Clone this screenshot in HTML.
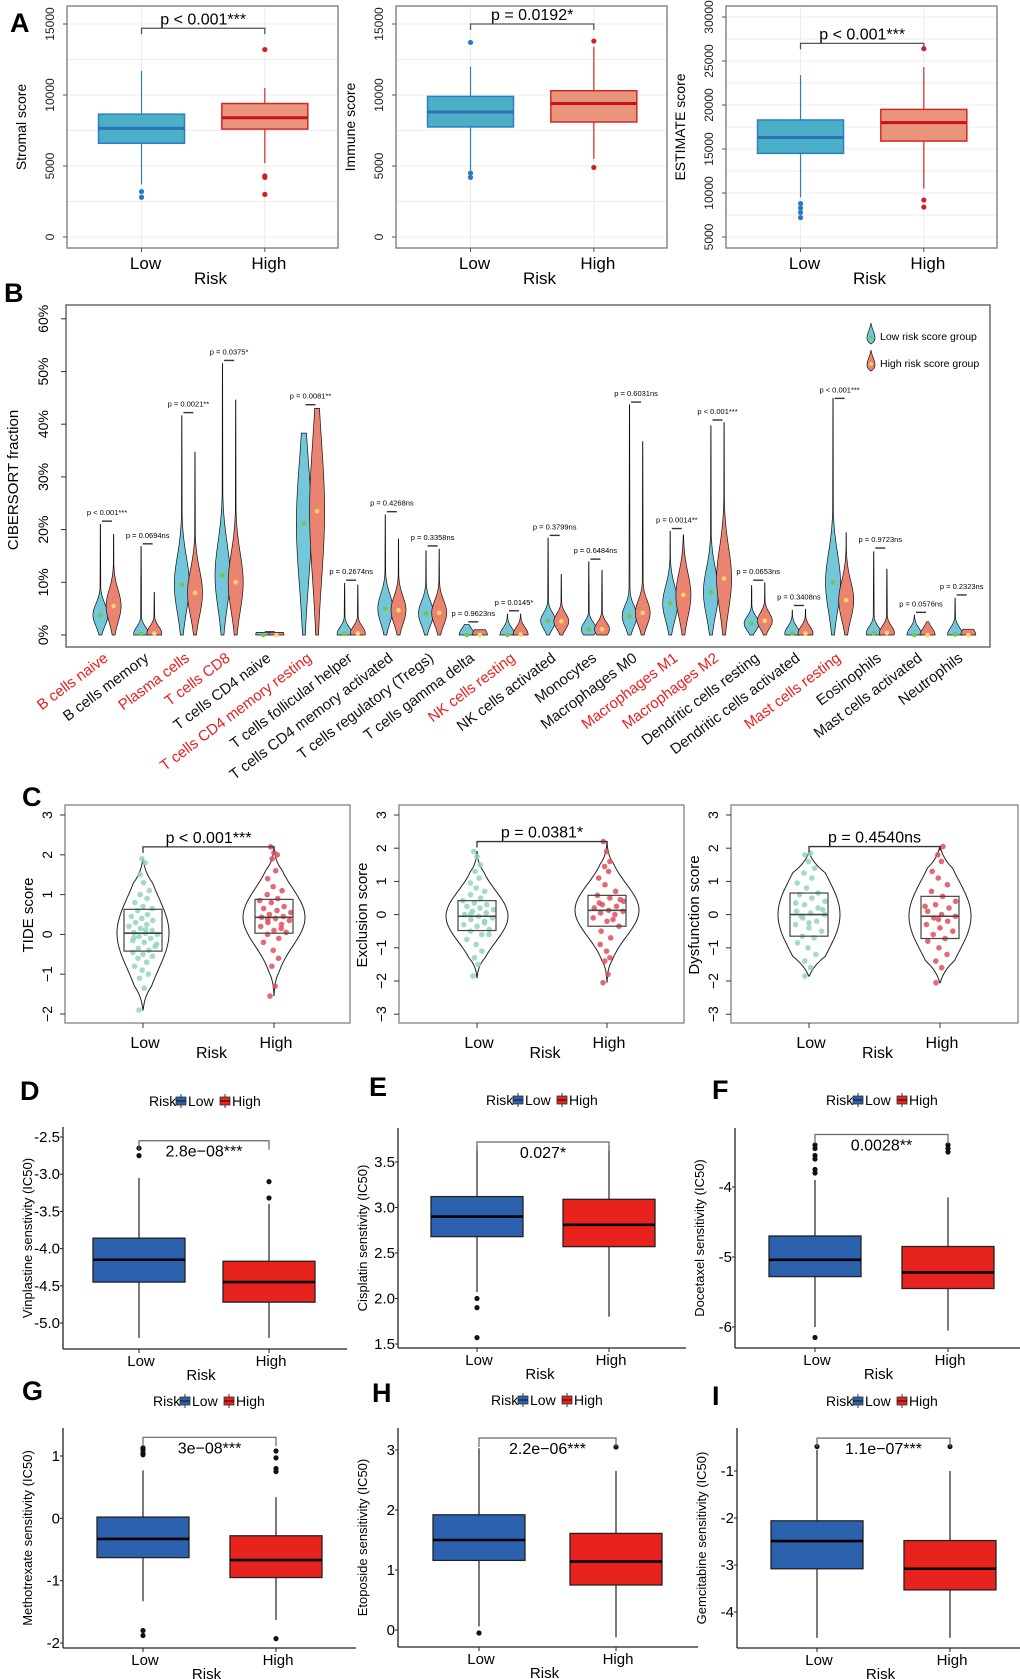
<!DOCTYPE html>
<html><head><meta charset="utf-8"><style>
html,body{margin:0;padding:0;background:#fff;}
svg{display:block;font-family:"Liberation Sans",Arial,sans-serif;}
.n{font-family:"Liberation Sans Narrow","Liberation Sans",sans-serif;}
</style></head><body>
<svg id="fig" width="1020" height="1679" viewBox="0 0 1020 1679" xmlns="http://www.w3.org/2000/svg"></svg>
<script>
// ===== Panel A data [q1, median, q3, whiskerLow, whiskerHigh] =====
const aCategories=['Low','High'];
const stromalLow=[6600,7650,8650,3700,11700]; const stromalLowOut=[3200,2800];
const stromalHigh=[7600,8400,9400,5200,10500]; const stromalHighOut=[13200,4300,4200,3000];
const immuneLow=[7750,8800,9900,4700,12000]; const immuneLowOut=[13700,4500,4200];
const immuneHigh=[8100,9400,10300,5500,13400]; const immuneHighOut=[13800,4900];
const estLow=[14500,16300,18300,9500,23400]; const estLowOut=[8800,8300,7800,7200];
const estHigh=[15900,18000,19500,10500,24300]; const estHighOut=[26400,9200,8400];
const aPvals=['p < 0.001***','p = 0.0192*','p < 0.001***'];
const aBracket=[14700,15000,27000];
// ===== Panel B data =====
const bCells=['B cells naive','B cells memory','Plasma cells','T cells CD8','T cells CD4 naive','T cells CD4 memory resting','T cells follicular helper','T cells CD4 memory activated','T cells regulatory  (Tregs)','T cells gamma  delta','NK cells resting','NK cells activated','Monocytes','Macrophages M0','Macrophages M1','Macrophages M2','Dendritic cells resting','Dendritic cells activated','Mast cells resting','Eosinophils','Mast cells activated','Neutrophils'];
const bRed=[1,0,1,1,0,1,0,0,0,0,1,0,0,0,1,1,0,0,1,0,0,0];
const bLowMax=[21,16.8,41.6,51.5,0.5,38.3,9.8,22.8,16,2,4,18.4,13.9,43.7,19.7,39.7,9.4,4.7,44.9,15.8,3.8,7];
const bHighMax=[19.1,8.1,34.7,44.6,0.5,43,9.5,18.2,16.3,1,4,11.5,12.3,36.7,19,40.3,9.9,4.9,19.4,12.5,2.5,1.1];
const bLowMed=[3.8,0.2,9.6,11.3,0,21.2,0.2,5,4.1,0,0,2.7,1.1,3.6,6,8.1,2.2,0.3,10,0.3,0,0.1];
const bHighMed=[5.5,0.3,8,10,0,23.5,0.3,4.7,4.2,0,0.1,2.6,1.1,4.2,7.6,10.7,2.7,0.3,6.6,0.4,0,0];
const bBracket=[21.6,17.3,42.2,52.1,0.6,43.7,10.4,23.4,16.9,2.5,4.6,18.9,14.4,44.2,20.2,40.8,10.4,5.6,44.9,16.5,4.3,7.6];
const bPvals=['p < 0.001***','p = 0.0694ns','p = 0.0021**','p = 0.0375*','','p = 0.0081**','p = 0.2674ns','p = 0.4268ns','p = 0.3358ns','p = 0.9623ns','p = 0.0145*','p = 0.3799ns','p = 0.6484ns','p = 0.6031ns','p = 0.0014**','p < 0.001***','p = 0.0653ns','p = 0.3408ns','p < 0.001***','p = 0.9723ns','p = 0.0576ns','p = 0.2323ns'];
const bTicks=[0,10,20,30,40,50,60];
// ===== Panel C data [q1, median, q3, min, max] =====
const tideLow=[-0.42,0.03,0.63,-1.9,1.9]; const tideHigh=[0.03,0.43,0.88,-1.55,2.2];
const exclLow=[-0.48,-0.05,0.42,-1.9,1.9]; const exclHigh=[-0.35,0.13,0.58,-2.05,2.2];
const dysLow=[-0.65,0,0.65,-1.85,1.85]; const dysHigh=[-0.72,-0.05,0.55,-2.05,2.05];
const tideLowPts=[-1.9,-1.35,-1.1,-1.0,-0.9,-0.8,-0.7,-0.6,-0.55,-0.5,-0.45,-0.4,-0.35,-0.3,-0.2,-0.15,-0.1,-0.05,0,0.03,0.05,0.1,0.15,0.2,0.25,0.3,0.35,0.4,0.45,0.5,0.6,0.65,0.7,0.8,0.9,1.0,1.1,1.3,1.5,1.8,1.9,-0.25,0.12,-0.08];
const tideHighPts=[-1.55,-1.3,-0.8,-0.6,-0.4,-0.2,-0.1,0,0.05,0.1,0.2,0.25,0.3,0.35,0.4,0.43,0.45,0.5,0.55,0.6,0.65,0.7,0.8,0.85,0.9,1.0,1.1,1.2,1.4,1.6,1.9,2.0,2.05,2.2,0.15,0.38];
const exclLowPts=[-1.85,-1.5,-1.3,-1.1,-0.9,-0.75,-0.6,-0.5,-0.45,-0.35,-0.3,-0.2,-0.15,-0.1,-0.05,0,0.05,0.1,0.15,0.2,0.25,0.3,0.35,0.42,0.5,0.6,0.7,0.8,0.95,1.1,1.3,1.5,1.75,1.9,-0.25,0.02,-0.6];
const exclHighPts=[-2.05,-1.8,-1.4,-1.3,-1.1,-0.9,-0.7,-0.5,-0.35,-0.2,-0.1,0,0.05,0.1,0.13,0.2,0.25,0.3,0.4,0.5,0.58,0.7,0.9,1.1,1.3,1.45,1.6,1.9,2.2,-0.15,0.35,0.45];
const dysLowPts=[-1.85,-1.6,-1.4,-1.2,-1.0,-0.85,-0.7,-0.65,-0.5,-0.4,-0.3,-0.2,-0.1,0,0.05,0.1,0.2,0.3,0.4,0.5,0.6,0.65,0.8,0.95,1.1,1.25,1.4,1.6,1.8,1.85,-0.05,0.15,-0.25,0.35];
const dysHighPts=[-2.05,-1.6,-1.4,-1.2,-1.0,-0.8,-0.72,-0.6,-0.5,-0.4,-0.3,-0.2,-0.1,-0.05,0,0.1,0.2,0.3,0.4,0.55,0.7,0.9,1.1,1.3,1.6,1.8,2.05,-0.15,0.25];
const cPvals=['p < 0.001***','p = 0.0381*','p = 0.4540ns'];
const cBracket=[2.2,2.2,2.05];
// ===== Panels D-I data [q1, median, q3, whiskerLow, whiskerHigh] =====
const vinLow=[-4.45,-4.15,-3.86,-5.2,-3.05]; const vinLowOut=[-2.65,-2.75];
const vinHigh=[-4.72,-4.45,-4.17,-5.2,-3.4]; const vinHighOut=[-3.1,-3.32];
const cisLow=[2.68,2.9,3.12,2.07,3.68]; const cisLowOut=[2.0,1.9,1.57];
const cisHigh=[2.57,2.81,3.09,1.8,3.68]; const cisHighOut=[];
const docLow=[-5.28,-5.04,-4.7,-6.0,-3.9]; const docLowOut=[-3.4,-3.45,-3.55,-3.6,-3.75,-3.8,-6.15];
const docHigh=[-5.45,-5.22,-4.85,-6.05,-4.15]; const docHighOut=[-3.4,-3.45,-3.5];
const metLow=[-0.63,-0.33,0.02,-1.33,0.77]; const metLowOut=[1.02,1.05,1.1,1.13,-1.8,-1.88];
const metHigh=[-0.95,-0.67,-0.28,-1.63,0.34]; const metHighOut=[1.08,0.97,0.8,0.75,-1.93];
const etoLow=[1.16,1.5,1.92,0.06,3.03]; const etoLowOut=[-0.05];
const etoHigh=[0.75,1.14,1.61,-0.12,2.65]; const etoHighOut=[3.05];
const gemLow=[-3.08,-2.49,-2.06,-4.55,-0.55]; const gemLowOut=[-0.48];
const gemHigh=[-3.53,-3.08,-2.48,-4.55,-1.0]; const gemHighOut=[-0.48];
const drugP=['2.8e\u221208***','0.027*','0.0028**','3e\u221208***','2.2e\u221206***','1.1e\u221207***'];
const drugBracket=[-2.55,3.72,-3.25,1.3,3.2,-0.3];
const vinTicks=['-2.5','-3.0','-3.5','-4.0','-4.5','-5.0'];
const cisTicks=['1.5','2.0','2.5','3.0','3.5'];
const docTicks=['-6','-5','-4'];
const metTicks=['-2','-1','0','1'];
const etoTicks=['0','1','2','3'];
const gemTicks=['-4','-3','-2','-1'];

const NS='http://www.w3.org/2000/svg';
const svg=document.getElementById('fig');
function mk(tag,attrs,name,parent){
  const el=document.createElementNS(NS,tag);
  for(const k in attrs) el.setAttribute(k,attrs[k]);
  
  
  (parent||svg).appendChild(el); return el;
}
function txt(x,y,s,attrs,name,parent){const t=mk('text',Object.assign({x:x,y:y},attrs),name,parent);t.textContent=s;return t;}
function line(x1,y1,x2,y2,st,sw,name,p){return mk('line',{x1,y1,x2,y2,stroke:st,'stroke-width':sw},name,p);}

function boxplot(g,cx,hw,s,outl,y,fill,stroke,medC,sw,medW,dotC,name){
  line(cx,y(s[3]),cx,y(s[0]),stroke,1.2,name+'-whisker-low',g);
  line(cx,y(s[2]),cx,y(s[4]),stroke,1.2,name+'-whisker-high',g);
  mk('rect',{x:cx-hw,y:y(s[2]),width:2*hw,height:y(s[0])-y(s[2]),fill:fill,stroke:stroke,'stroke-width':sw},name+'-box',g);
  line(cx-hw,y(s[1]),cx+hw,y(s[1]),medC,medW,name+'-median',g);
  outl.forEach(function(v){mk('circle',{cx:cx,cy:y(v),r:2.6,fill:dotC},name+'-outlier',g);});
}
function letter(x,y,s){txt(x,y,s,{'font-size':27,'font-weight':'bold',class:'n'},'panel-label-'+s.toLowerCase());}

// ================= PANEL A =================
letter(10,32,'A');
const aPlots=[
 {x0:67,x1:338,title:'Stromal score',ticks:[0,5000,10000,15000],minor:2500,lo:0,hi:15000,yb:237,yt:24,low:stromalLow,lowO:stromalLowOut,high:stromalHigh,highO:stromalHighOut},
 {x0:396,x1:667,title:'Immune score',ticks:[0,5000,10000,15000],minor:2500,lo:0,hi:15000,yb:237,yt:24,low:immuneLow,lowO:immuneLowOut,high:immuneHigh,highO:immuneHighOut},
 {x0:726,x1:997,title:'ESTIMATE score',ticks:[5000,10000,15000,20000,25000,30000],minor:2500,lo:5000,hi:30000,yb:237,yt:17,low:estLow,lowO:estLowOut,high:estHigh,highO:estHighOut}];
aPlots.forEach(function(p,i){
  const g=mk('g',{},'score-plot-'+(i+1));
  const y=function(v){return p.yb-(v-p.lo)*(p.yb-p.yt)/(p.hi-p.lo);};
  const w=p.x1-p.x0, cL=p.x0+w*0.275, cH=p.x0+w*0.73;
  for(let v=p.lo-p.minor; v<=p.hi+p.minor; v+=p.minor){ if(y(v)>7&&y(v)<247) line(p.x0,y(v),p.x1,y(v),'#ececec',1,'gridline',g);}
  line(cL,6,cL,248,'#ececec',1,'gridline',g); line(cH,6,cH,248,'#ececec',1,'gridline',g);
  mk('rect',{x:p.x0,y:6,width:w,height:242,fill:'none',stroke:'#777','stroke-width':1.3},'plot-frame',g);
  p.ticks.forEach(function(t){line(p.x0-4,y(t),p.x0,y(t),'#555',1,'y-tick',g);
    txt(p.x0-13,y(t),String(t),{'font-size':12,'text-anchor':'middle',transform:'rotate(-90 '+(p.x0-13)+' '+y(t)+')',fill:'#222'},'y-tick-label',g);});
  txt(p.x0-41,127,p.title,{'font-size':14,'text-anchor':'middle',transform:'rotate(-90 '+(p.x0-41)+' 127)'},'y-axis-title',g);
  [cL,cH].forEach(function(c,j){line(c,248,c,252,'#555',1,'x-tick',g);
    txt(c+4,269,aCategories[j],{'font-size':17,'text-anchor':'middle',class:'n'},'x-tick-label',g);});
  txt((p.x0+p.x1)/2+8,284,'Risk',{'font-size':17,'text-anchor':'middle',class:'n'},'x-axis-title',g);
  boxplot(g,cL,43,p.low,p.lowO,y,'#4bafc8','#2e7fc0','#2e6fb5',1.5,3,'#2a78c6','box-low');
  boxplot(g,cH,43,p.high,p.highO,y,'#e8957c','#d7262a','#cc1018',1.5,3,'#d41c24','box-high');
  const by=y(aBracket[i]);
  mk('path',{d:'M'+cL+' '+(by+6)+'V'+by+'H'+cH+'V'+(by+6),fill:'none',stroke:'#555','stroke-width':1.3},'significance-bracket',g);
  txt((cL+cH)/2,by-4,aPvals[i],{'font-size':16,'text-anchor':'middle',class:'n'},'p-value-label',g);
});

// ================= PANEL B =================
letter(4,302,'B');
(function(){
  const g=mk('g',{},'cibersort-violin-chart');
  const y=function(v){return 635-v*5.27;};
  const cx=function(i){return 107+i*40.7;};
  mk('rect',{x:66,y:305,width:924,height:342,fill:'none',stroke:'#555','stroke-width':1.3},'plot-frame',g);
  bTicks.forEach(function(t){line(61,y(t),66,y(t),'#333',1,'y-tick',g);
    txt(48,y(t),t+'%',{'font-size':14,'text-anchor':'middle',transform:'rotate(-90 48 '+y(t)+')'},'y-tick-label',g);});
  txt(18,480,'CIBERSORT fraction',{'font-size':15,'text-anchor':'middle',transform:'rotate(-90 18 480)'},'y-axis-title',g);
  function violin(c,max,med,fill,name){
    const s=Math.max(med*0.55,1.3), W=7.5, n=40; let L=[],R=[];
    for(let k=0;k<=n;k++){const v=max*k/n; let w=W*Math.exp(-0.5*Math.pow((v-med)/s,2)); w=Math.max(w,0.4*(1-k/n)+0.15);
      L.push((c-w).toFixed(2)+' '+y(v).toFixed(2)); R.unshift((c+w).toFixed(2)+' '+y(v).toFixed(2));}
    mk('path',{d:'M'+L.join('L')+'L'+R.join('L')+'Z',fill:fill,stroke:'#111','stroke-width':0.7},name,g);
  }
  bCells.forEach(function(c,i){
    const x=cx(i);
    violin(x-6.6,bLowMax[i],bLowMed[i],'#72c8da','violin-low-'+i);
    violin(x+6.6,bHighMax[i],bHighMed[i],'#ea8470','violin-high-'+i);
    mk('circle',{cx:x-6.6,cy:y(bLowMed[i]),r:2.3,fill:'#7dc242'},'median-dot-low',g);
    mk('circle',{cx:x+6.6,cy:y(bHighMed[i]),r:2.3,fill:'#f8d46a'},'median-dot-high',g);
    line(x-5,y(bBracket[i]),x+5,y(bBracket[i]),'#333',1.4,'significance-bar',g);
    if(bPvals[i]) txt(x,y(bBracket[i])-6,bPvals[i],{'font-size':7.5,'text-anchor':'middle',class:'n'},'p-value-label',g);
    const lx=x+2, ly=660;
    txt(lx,ly,c,{'font-size':15,'text-anchor':'end',fill:bRed[i]?'#ee1c1c':'#111',transform:'rotate(-37 '+lx+' '+ly+')'},'x-tick-label',g);
  });
  [['Low risk score group','#72c8da','#7dc242',336],['High risk score group','#ea8470','#f8d46a',363]].forEach(function(e,i){
    const lg=mk('g',{},'legend-entry',g);
    mk('path',{d:'M871 '+(e[3]-13)+'C872 '+(e[3]-6)+' 875 '+(e[3]-3)+' 875 '+(e[3]+2)+'C875 '+(e[3]+6)+' 871 '+(e[3]+8)+' 871 '+(e[3]+8)+'C871 '+(e[3]+8)+' 867 '+(e[3]+6)+' 867 '+(e[3]+2)+'C867 '+(e[3]-3)+' 870 '+(e[3]-6)+' 871 '+(e[3]-13)+'Z',fill:e[1],stroke:'#111','stroke-width':0.7},'legend-violin',lg);
    mk('circle',{cx:871,cy:e[3]+1,r:1.8,fill:e[2]},'legend-dot',lg);
    txt(880,e[3]+4,e[0],{'font-size':10.5,class:'n'},'legend-label',lg);
  });
})();

// ================= PANEL C =================
letter(22,806,'C');
const cPlots=[
 {x0:65,x1:350,title:'TIDE score',u:39.8,cL:143,cH:274,low:tideLow,high:tideHigh,lp:tideLowPts,hp:tideHighPts,hwL:26,hwH:31},
 {x0:399,x1:684,title:'Exclusion score',u:33.2,cL:477,cH:607,low:exclLow,high:exclHigh,lp:exclLowPts,hp:exclHighPts,hwL:31,hwH:32},
 {x0:731,x1:1018,title:'Dysfunction score',u:33.2,cL:809,cH:940,low:dysLow,high:dysHigh,lp:dysLowPts,hp:dysHighPts,hwL:31,hwH:31}];
cPlots.forEach(function(p,i){
  const g=mk('g',{},'tide-plot-'+(i+1));
  const y=function(v){return 815+(3-v)*p.u;};
  mk('rect',{x:p.x0,y:805,width:p.x1-p.x0,height:218,fill:'none',stroke:'#777','stroke-width':1.2},'plot-frame',g);
  const ticks=i===0?[-2,-1,0,1,2,3]:[-3,-2,-1,0,1,2,3];
  ticks.forEach(function(t){line(p.x0-5,y(t),p.x0,y(t),'#333',1,'y-tick',g);
    const s=t<0?'\u2212'+(-t):String(t);
    txt(p.x0-13,y(t),s,{'font-size':14,'text-anchor':'middle',transform:'rotate(-90 '+(p.x0-13)+' '+y(t)+')'},'y-tick-label',g);});
  txt(p.x0-32,915,p.title,{'font-size':15,'text-anchor':'middle',transform:'rotate(-90 '+(p.x0-32)+' 915)'},'y-axis-title',g);
  function vio(c,s,hw,pts,col,name){
    const sd=(s[2]-s[0])*0.85, n=50; let L=[],R=[];
    for(let k=0;k<=n;k++){const v=s[3]+(s[4]-s[3])*k/n; const t=Math.min(k,n-k)/n;
      let w=hw*Math.exp(-0.5*Math.pow((v-s[1])/sd,2))*Math.min(1,t*6+0.05);
      L.push((c-w).toFixed(1)+' '+y(v).toFixed(1)); R.unshift((c+w).toFixed(1)+' '+y(v).toFixed(1));}
    mk('path',{d:'M'+L.join('L')+'L'+R.join('L')+'Z',fill:'none',stroke:'#222','stroke-width':1},name+'-violin',g);
    pts.forEach(function(v,k){const dx=(((k*37)%23)-11)/11*Math.max(hw*0.55*Math.exp(-0.5*Math.pow((v-s[1])/sd,2)),4);
      mk('circle',{cx:c+dx,cy:y(v),r:2.8,fill:col,opacity:0.85},name+'-point',g);});
    mk('rect',{x:c-19,y:y(s[2]),width:38,height:y(s[0])-y(s[2]),fill:'none',stroke:'#444','stroke-width':1.2},name+'-box',g);
    line(c-19,y(s[1]),c+19,y(s[1]),'#444',1.6,name+'-median',g);
  }
  vio(p.cL,p.low,p.hwL,p.lp,'#92d4c3','low');
  vio(p.cH,p.high,p.hwH,p.hp,'#e14f5d','high');
  const by=y(cBracket[i]);
  mk('path',{d:'M'+p.cL+' '+(by+6)+'V'+by+'H'+p.cH+'V'+(by+4),fill:'none',stroke:'#333','stroke-width':1.3},'significance-bracket',g);
  txt((p.cL+p.cH)/2,by-4,cPvals[i],{'font-size':16,'text-anchor':'middle',class:'n'},'p-value-label',g);
  [p.cL,p.cH].forEach(function(c,j){line(c,1023,c,1028,'#333',1,'x-tick',g);
    txt(c+2,1048,aCategories[j],{'font-size':16,'text-anchor':'middle',class:'n'},'x-tick-label',g);});
  txt((p.cL+p.cH)/2+3,1058,'Risk',{'font-size':16,'text-anchor':'middle',class:'n'},'x-axis-title',g);
});

// ================= PANELS D-I =================
letter(20,1100,'D'); letter(369,1096,'E'); letter(712,1099,'F');
letter(22,1400,'G'); letter(372,1402,'H'); letter(712,1405,'I');
const dPlots=[
 {x0:63,x1:347,top:1127,ax:1349,cL:139,cH:269,t1:-2.5,p1:1137,t2:-5.0,p2:1323,ticks:vinTicks,title:'Vinplastine senstivity (IC50)',low:vinLow,lowO:vinLowOut,high:vinHigh,highO:vinHighOut,lx:149,ly:1106},
 {x0:398,x1:686,top:1128,ax:1348,cL:477,cH:609,t1:3.5,p1:1162,t2:1.5,p2:1344,ticks:cisTicks,title:'Cisplatin senstivity (IC50)',low:cisLow,lowO:cisLowOut,high:cisHigh,highO:cisHighOut,lx:486,ly:1105},
 {x0:735,x1:1026,top:1128,ax:1348,cL:815,cH:948,t1:-4,p1:1187,t2:-6,p2:1327,ticks:docTicks,title:'Docetaxel sensitivity (IC50)',low:docLow,lowO:docLowOut,high:docHigh,highO:docHighOut,lx:826,ly:1105},
 {x0:63,x1:356,top:1428,ax:1648,cL:143,cH:276,t1:1,p1:1456,t2:-2,p2:1643,ticks:metTicks,title:'Methotrexate sensitivity (IC50)',low:metLow,lowO:metLowOut,high:metHigh,highO:metHighOut,lx:153,ly:1406},
 {x0:398,x1:698,top:1428,ax:1647,cL:479,cH:616,t1:3,p1:1450,t2:0,p2:1630,ticks:etoTicks,title:'Etoposide sensitivity (IC50)',low:etoLow,lowO:etoLowOut,high:etoHigh,highO:etoHighOut,lx:491,ly:1405},
 {x0:737,x1:1030,top:1428,ax:1648,cL:817,cH:950,t1:-1,p1:1471,t2:-4,p2:1612,ticks:gemTicks,title:'Gemcitabine sensitivity (IC50)',low:gemLow,lowO:gemLowOut,high:gemHigh,highO:gemHighOut,lx:826,ly:1406}];
dPlots.forEach(function(p,i){
  const g=mk('g',{},'drug-plot-'+(i+1));
  const y=function(v){return p.p1+(v-p.t1)*(p.p2-p.p1)/(p.t2-p.t1);};
  line(p.x0,p.top,p.x0,p.ax,'#222',1.3,'y-axis-line',g);
  line(p.x0,p.ax,p.x1,p.ax,'#222',1.3,'x-axis-line',g);
  p.ticks.forEach(function(s){const v=parseFloat(s);line(p.x0-3,y(v),p.x0,y(v),'#222',1,'y-tick',g);
    txt(p.x0-3,y(v)+5,s,{'font-size':15,'text-anchor':'end',class:'n'},'y-tick-label',g);});
  const ty=(p.top+p.ax)/2;
  txt(p.x0-31,ty,p.title,{'font-size':13,'text-anchor':'middle',transform:'rotate(-90 '+(p.x0-31)+' '+ty+')'},'y-axis-title',g);
  boxplot(g,p.cL,46,p.low,p.lowO,y,'#2c62ad','#222','#000',1.3,2.6,'#111','box-low');
  boxplot(g,p.cH,46,p.high,p.highO,y,'#e8221c','#222','#000',1.3,2.6,'#111','box-high');
  const by=y(drugBracket[i]);
  mk('path',{d:'M'+p.cL+' '+(by+9)+'V'+by+'H'+p.cH+'V'+(by+9),fill:'none',stroke:'#666','stroke-width':1.2},'significance-bracket',g);
  txt((p.cL+p.cH)/2,by+16,drugP[i],{'font-size':16,'text-anchor':'middle',class:'n'},'p-value-label',g);
  [p.cL,p.cH].forEach(function(c,j){line(c,p.ax,c,p.ax+4,'#222',1,'x-tick',g);
    txt(c+2,p.ax+17,aCategories[j],{'font-size':15,'text-anchor':'middle',class:'n'},'x-tick-label',g);});
  txt((p.cL+p.cH)/2-3,p.ax+31,'Risk',{'font-size':15,'text-anchor':'middle',class:'n'},'x-axis-title',g);
  const lg=mk('g',{},'legend',g);
  txt(p.lx,p.ly,'Risk',{'font-size':14,class:'n'},'legend-title',lg);
  [['Low','#2c62ad',p.lx+27],['High','#e8221c',p.lx+71]].forEach(function(e){
    line(e[2]+5,p.ly-12,e[2]+5,p.ly+2,'#333',1,'legend-key-line',lg);
    mk('rect',{x:e[2],y:p.ly-9,width:10,height:8,fill:e[1],stroke:'#333','stroke-width':0.8},'legend-key',lg);
    line(e[2],p.ly-5,e[2]+10,p.ly-5,'#111',1,'legend-key-median',lg);
    txt(e[2]+12,p.ly,e[0],{'font-size':14,class:'n'},'legend-label',lg);
  });
});
</script>
</body></html>
